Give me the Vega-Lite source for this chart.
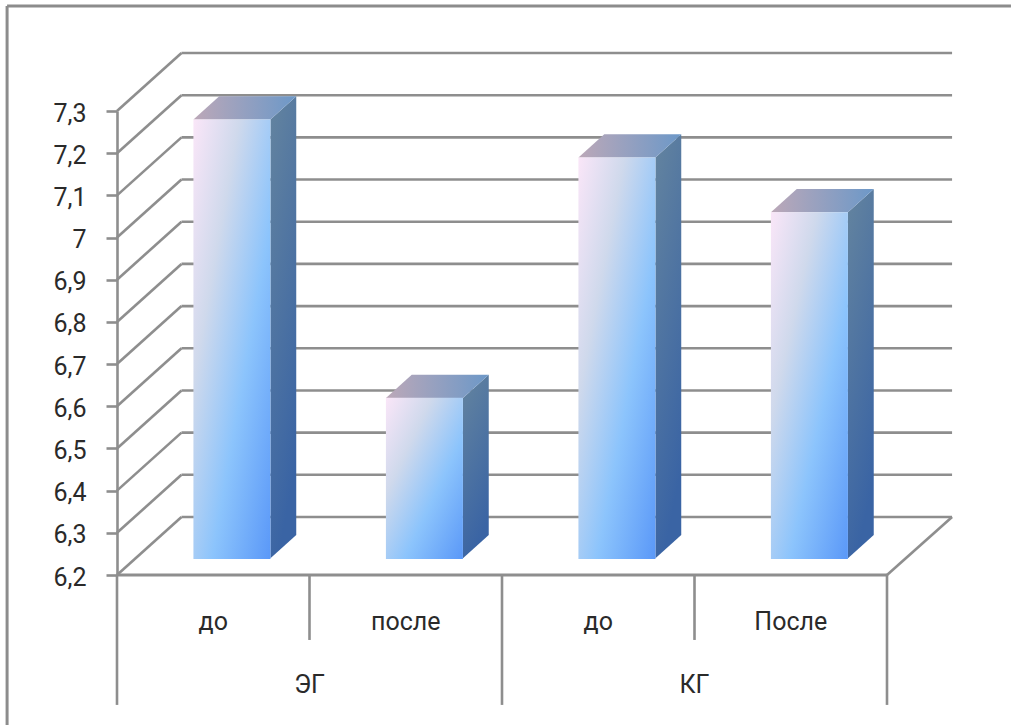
{
  "$schema": "https://vega.github.io/schema/vega-lite/v6.json",
  "width": 770,
  "height": 464,
  "autosize": {"type": "none"},
  "padding": {"left": 117, "top": 111, "right": 124, "bottom": 150},
  "background": "white",
  "view": {"stroke": null},
  "config": {"text": {"font": "Roboto", "fontSize": 25, "color": "#2a2a2a"}},
  "data": {"values": [{"part": "outline"}]},
  "datasets": {
    "bars": [
      {"group": "ЭГ", "period": "до", "slot": 0, "value": 7.24},
      {"group": "ЭГ", "period": "после", "slot": 1, "value": 6.58},
      {"group": "КГ", "period": "до", "slot": 2, "value": 7.15},
      {"group": "КГ", "period": "После", "slot": 3, "value": 7.02}
    ],
    "ticks": [
      {"tick": 6.2}, {"tick": 6.3}, {"tick": 6.4}, {"tick": 6.5},
      {"tick": 6.6}, {"tick": 6.7}, {"tick": 6.8}, {"tick": 6.9},
      {"tick": 7.0}, {"tick": 7.1}, {"tick": 7.2}, {"tick": 7.3}
    ],
    "dividers": [
      {"edge": 0, "tier": "group"},
      {"edge": 1, "tier": "period"},
      {"edge": 2, "tier": "group"},
      {"edge": 3, "tier": "period"},
      {"edge": 4, "tier": "group"}
    ]
  },
  "layer": [
    {
      "description": "Side wall grid lines, with the value axis at the front edge",
      "data": {"name": "ticks"},
      "transform": [{"calculate": "datum.tick + 0.1375", "as": "rear"}],
      "mark": {"type": "rule", "color": "#8e8e8e", "strokeWidth": 2.6, "clip": false},
      "encoding": {
        "x": {"datum": 0, "type": "quantitative", "scale": {"domain": [0, 4], "nice": false, "zero": false}, "axis": null},
        "x2": {"datum": 0.335},
        "y": {
          "field": "tick", "type": "quantitative",
          "scale": {"domain": [6.2, 7.3], "nice": false, "zero": false},
          "axis": {
            "title": null, "values": [6.2, 6.3, 6.4, 6.5, 6.6, 6.7, 6.8, 6.9, 7.0, 7.1, 7.2, 7.3],
            "labelExpr": "replace(format(datum.value, '~g'), '.', ',')",
            "labelFont": "Roboto", "labelFontSize": 25, "labelColor": "#2a2a2a", "labelPadding": 20, "labelOffset": 2,
            "grid": false, "domainColor": "#8e8e8e", "domainWidth": 2.6,
            "tickColor": "#8e8e8e", "tickWidth": 2.6, "tickSize": 11
          }
        },
        "y2": {"field": "rear"}
      }
    },
    {
      "description": "Back wall grid lines",
      "data": {"name": "ticks"},
      "transform": [{"calculate": "datum.tick + 0.1375", "as": "rear"}],
      "mark": {"type": "rule", "color": "#8e8e8e", "strokeWidth": 2.6, "clip": false},
      "encoding": {
        "x": {"datum": 0.335, "type": "quantitative"},
        "x2": {"datum": 4.338},
        "y": {"field": "rear", "type": "quantitative"}
      }
    },
    {
      "description": "Front edge of the floor",
      "mark": {"type": "rule", "color": "#8e8e8e", "strokeWidth": 3, "clip": false},
      "encoding": {
        "x": {"datum": 0, "type": "quantitative"},
        "x2": {"datum": 4},
        "y": {"datum": 6.2, "type": "quantitative"}
      }
    },
    {
      "description": "Right edge of the floor",
      "mark": {"type": "rule", "color": "#8e8e8e", "strokeWidth": 2.6, "clip": false},
      "encoding": {
        "x": {"datum": 4, "type": "quantitative"},
        "x2": {"datum": 4.338},
        "y": {"datum": 6.2, "type": "quantitative"},
        "y2": {"datum": 6.3375}
      }
    },
    {
      "description": "Tall dividers between the groups",
      "data": {"name": "dividers"},
      "transform": [{"filter": "datum.tier === 'group'"}],
      "mark": {"type": "rule", "color": "#8e8e8e", "strokeWidth": 2.6, "clip": false},
      "encoding": {
        "x": {"field": "edge", "type": "quantitative"},
        "y": {"datum": 6.2, "type": "quantitative"},
        "y2": {"datum": 5.892}
      }
    },
    {
      "description": "Short dividers between the periods",
      "data": {"name": "dividers"},
      "transform": [{"filter": "datum.tier === 'period'"}],
      "mark": {"type": "rule", "color": "#8e8e8e", "strokeWidth": 2.6, "clip": false},
      "encoding": {
        "x": {"field": "edge", "type": "quantitative"},
        "y": {"datum": 6.2, "type": "quantitative"},
        "y2": {"datum": 6.046}
      }
    },
    {
      "description": "Right side faces of the bars",
      "data": {"name": "bars"},
      "transform": [
        {"calculate": "[0.29, 0.69]", "as": "depth"},
        {"flatten": ["depth"]},
        {"calculate": "datum.slot + 0.7 + datum.depth * 0.335", "as": "sx"},
        {"calculate": "datum.value + datum.depth * 0.1375", "as": "stop"},
        {"calculate": "6.2 + datum.depth * 0.1375", "as": "sbase"}
      ],
      "mark": {
        "type": "area", "orient": "vertical", "clip": false,
        "fill": {
          "gradient": "linear", "x1": 0, "y1": 0, "x2": 0.3, "y2": 1,
          "stops": [{"offset": 0, "color": "#64849f"}, {"offset": 1, "color": "#3a64a4"}]
        }
      },
      "encoding": {
        "detail": {"field": "slot"},
        "x": {"field": "sx", "type": "quantitative"},
        "y": {"field": "stop", "type": "quantitative", "stack": null},
        "y2": {"field": "sbase"}
      }
    },
    {
      "description": "Top faces of the bars",
      "data": {"name": "bars"},
      "transform": [
        {"calculate": "[0.29, 0.69]", "as": "depth"},
        {"flatten": ["depth"]},
        {"calculate": "datum.slot + 0.3 + datum.depth * 0.335", "as": "tleft"},
        {"calculate": "datum.tleft + 0.4", "as": "tright"},
        {"calculate": "datum.value + datum.depth * 0.1375", "as": "ty"}
      ],
      "mark": {
        "type": "area", "orient": "horizontal", "clip": false,
        "fill": {
          "gradient": "linear", "x1": 0, "y1": 0.5, "x2": 1, "y2": 0.5,
          "stops": [{"offset": 0, "color": "#bca8b8"}, {"offset": 1, "color": "#6c98c8"}]
        }
      },
      "encoding": {
        "detail": {"field": "slot"},
        "y": {"field": "ty", "type": "quantitative"},
        "x": {"field": "tleft", "type": "quantitative", "stack": null},
        "x2": {"field": "tright"}
      }
    },
    {
      "description": "Front faces of the bars",
      "data": {"name": "bars"},
      "transform": [
        {"calculate": "datum.slot + 0.397", "as": "fleft"},
        {"calculate": "datum.fleft + 0.4", "as": "fright"},
        {"calculate": "datum.value + 0.04", "as": "ftop"},
        {"calculate": "6.238", "as": "fbase"}
      ],
      "mark": {
        "type": "rect", "clip": false,
        "fill": {
          "gradient": "linear", "x1": 0, "y1": 0, "x2": 1, "y2": 1,
          "stops": [
            {"offset": 0, "color": "#fae6f8"},
            {"offset": 0.3, "color": "#cfd9ec"},
            {"offset": 0.62, "color": "#8cc4fc"},
            {"offset": 1, "color": "#5a98f8"}
          ]
        }
      },
      "encoding": {
        "x": {"field": "fleft", "type": "quantitative"},
        "x2": {"field": "fright"},
        "y": {"field": "ftop", "type": "quantitative"},
        "y2": {"field": "fbase"}
      }
    },
    {
      "description": "Period labels under each bar",
      "data": {"name": "bars"},
      "transform": [{"calculate": "datum.slot + 0.5", "as": "centre"}],
      "mark": {"type": "text", "baseline": "middle", "clip": false},
      "encoding": {
        "x": {"field": "centre", "type": "quantitative"},
        "y": {"datum": 6.0886, "type": "quantitative"},
        "text": {"field": "period"}
      }
    },
    {
      "description": "Group labels under each pair of bars",
      "data": {"name": "bars"},
      "transform": [
        {"aggregate": [{"op": "mean", "field": "slot", "as": "mid"}], "groupby": ["group"]},
        {"calculate": "datum.mid + 0.5", "as": "centre"}
      ],
      "mark": {"type": "text", "baseline": "middle", "clip": false},
      "encoding": {
        "x": {"field": "centre", "type": "quantitative"},
        "y": {"datum": 5.939, "type": "quantitative"},
        "text": {"field": "group"}
      }
    },
    {
      "description": "Outer frame, top edge",
      "mark": {"type": "rule", "color": "#8c8c8c", "strokeWidth": 3, "clip": false},
      "encoding": {
        "x": {"datum": -0.571, "type": "quantitative"},
        "x2": {"datum": 4.644},
        "y": {"datum": 7.5489, "type": "quantitative"}
      }
    },
    {
      "description": "Outer frame, left edge",
      "mark": {"type": "rule", "color": "#8c8c8c", "strokeWidth": 3, "clip": false},
      "encoding": {
        "x": {"datum": -0.571, "type": "quantitative"},
        "y": {"datum": 7.5489, "type": "quantitative"},
        "y2": {"datum": 5.844}
      }
    }
  ]
}
